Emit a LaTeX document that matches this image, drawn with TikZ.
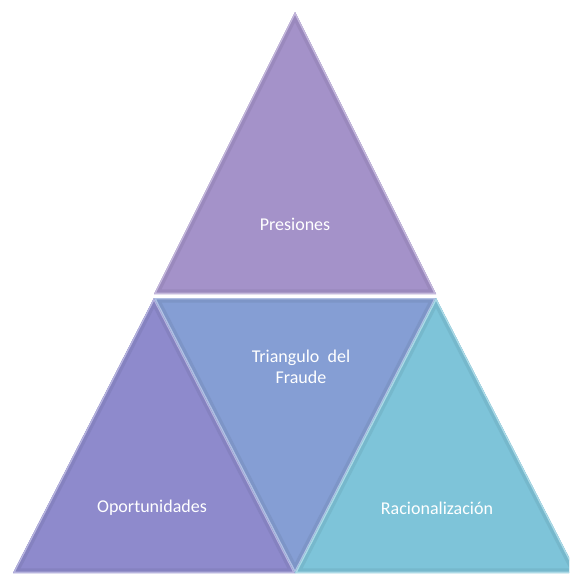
\documentclass[tikz,border=0pt]{standalone}
\usepackage{fontspec}
\setmainfont{Carlito}
\usepackage{xcolor}
\usetikzlibrary{calc}

\definecolor{presColor}{RGB}{164,146,201}
\definecolor{oporColor}{RGB}{142,138,204}
\definecolor{fraudColor}{RGB}{133,158,212}
\definecolor{racioColor}{RGB}{126,196,217}

\begin{document}
\begin{tikzpicture}[x=0.75pt,y=0.75pt,yscale=-1,xscale=1,
    lbl/.style={text=white,inner sep=0.75pt,align=center,font=\fontsize{13.5}{16}\selectfont},
    bevelDark/.style={line width=7,draw=#1!94!black,line join=miter},
    bevelLight/.style={line width=2,draw=#1!65!white,line join=miter}]
      \useasboundingbox (0,0) rectangle (569,575);
      \clip (0,0) rectangle (569,575);
      % corners of the four triangles
      \coordinate (apex) at (295,12);
      \coordinate (tl) at (154,294);
      \coordinate (tr) at (436,294);
      \coordinate (ml) at (154,298);
      \coordinate (mr) at (436,298);
      \coordinate (bl) at (13,573);
      \coordinate (bm) at (295,573);
      \coordinate (br) at (577,573);
      % top triangle
      \fill [presColor] (apex) -- (tl) -- (tr) -- cycle;
      \begin{scope}
        \clip (apex) -- (tl) -- (tr) -- cycle;
        \draw [bevelDark=presColor] (apex) -- (tl) -- (tr) -- cycle;
        \draw [bevelLight=presColor] (apex) -- (tl) -- (tr) -- cycle;
      \end{scope}
      % bottom left triangle
      \fill [oporColor] (ml) -- (bl) -- (bm) -- cycle;
      \begin{scope}
        \clip (ml) -- (bl) -- (bm) -- cycle;
        \draw [bevelDark=oporColor] (ml) -- (bl) -- (bm) -- cycle;
        \draw [bevelLight=oporColor] (ml) -- (bl) -- (bm) -- cycle;
      \end{scope}
      % middle (inverted) triangle
      \fill [fraudColor] (ml) -- (mr) -- (bm) -- cycle;
      \begin{scope}
        \clip (ml) -- (mr) -- (bm) -- cycle;
        \draw [bevelDark=fraudColor] (ml) -- (mr) -- (bm) -- cycle;
        \draw [bevelLight=fraudColor] (ml) -- (mr) -- (bm) -- cycle;
      \end{scope}
      % bottom right triangle
      \fill [racioColor] (mr) -- (bm) -- (br) -- cycle;
      \begin{scope}
        \clip (mr) -- (bm) -- (br) -- cycle;
        \draw [bevelDark=racioColor] (mr) -- (bm) -- (br) -- cycle;
        \draw [bevelLight=racioColor] (mr) -- (bm) -- (br) -- cycle;
      \end{scope}
      % labels
      \node [lbl] (presiones) at (295,224) {Presiones};
      \node [lbl] (fraude) at (301,367) {Triangulo\ \ del\\Fraude};
      \node [lbl] (oportunidades) at (152,508) {Oportunidades};
      \node [lbl] (racionalizacion) at (437,508) {Racionalización};
\end{tikzpicture}
\end{document}
